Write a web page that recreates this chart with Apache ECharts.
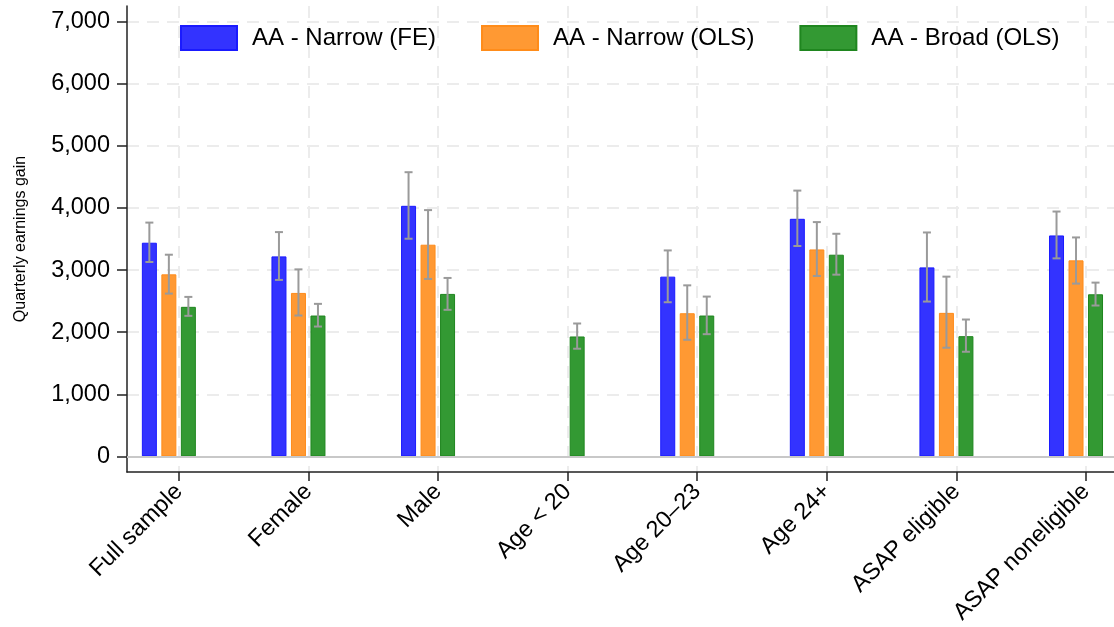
<!DOCTYPE html>
<html>
<head>
<meta charset="utf-8">
<script src="https://cdn.jsdelivr.net/npm/echarts@6/dist/echarts.min.js"></script>
<style>html,body{margin:0;padding:0;background:#fff;}#c{width:1114px;height:627px;}</style>
</head>
<body>
<div id="c"></div>
<script>
const categories = ['Full sample','Female','Male','Age < 20','Age 20\u201323','Age 24+','ASAP eligible','ASAP noneligible'];
const seriesNames = ['AA - Narrow (FE)','AA - Narrow (OLS)','AA - Broad (OLS)'];
const narrowFE    = [3440, 3220, 4034, null, 2894, 3825, 3043, 3557];
const narrowFE_lo = [3130, 2841, 3504, null, 2482, 3387, 2493, 3188];
const narrowFE_hi = [3764, 3611, 4575, null, 3316, 4279, 3605, 3942];
const narrowOLS    = [2931, 2632, 3408, null, 2305, 3332, 2311, 3156];
const narrowOLS_lo = [2621, 2268, 2857, null, 1878, 2905, 1750, 2782];
const narrowOLS_hi = [3247, 3011, 3965, null, 2754, 3772, 2894, 3525];
const broadOLS    = [2408, 2268, 2616, 1931, 2268, 3247, 1936, 2610];
const broadOLS_lo = [2263, 2091, 2360, 1734, 1968, 2926, 1685, 2429];
const broadOLS_hi = [2568, 2456, 2873, 2140, 2573, 3584, 2204, 2798];
const yTicks = [0, 1000, 2000, 3000, 4000, 5000, 6000, 7000];

const values = [narrowFE, narrowOLS, broadOLS];
const lows = [narrowFE_lo, narrowOLS_lo, broadOLS_lo];
const highs = [narrowFE_hi, narrowOLS_hi, broadOLS_hi];
const fills = ['#3333ff', '#ff9933', '#339933'];
const borders = ['#1a1aff', '#ff8c1a', '#1f861f'];
const barOffsets = [-19.5, 0, 19.5];
const positions = categories.map((c, i) => i + 1);

const FONT = "'Liberation Sans', Arial, Helvetica, sans-serif";
const chart = echarts.init(document.getElementById('c'), null, {renderer: 'canvas'});

const series = [];
values.forEach((vals, s) => {
  series.push({
    name: seriesNames[s],
    type: 'bar',
    xAxisIndex: 1,
    barWidth: 15,
    barGap: '30%',
    itemStyle: {color: fills[s], borderColor: borders[s], borderWidth: 1},
    data: vals.map((v, i) => [positions[i], v === null ? '-' : v]),
    markLine: s === 0 ? {
      silent: true, symbol: 'none', label: {show: false},
      lineStyle: {color: '#c8c8c8', type: 'solid', width: 2},
      data: [{yAxis: 0}]
    } : undefined,
    z: 2
  });
});
values.forEach((vals, s) => {
  const d = [];
  vals.forEach((v, i) => { if (v !== null) d.push([positions[i], lows[s][i], highs[s][i]]); });
  series.push({
    name: 'err' + s,
    type: 'custom',
    xAxisIndex: 1,
    dimensions: ['x', 'lo', 'hi'],
    encode: {x: 0, y: [1, 2]},
    data: d,
    z: 5,
    renderItem: function (params, api) {
      const top = api.coord([api.value(0), api.value(2)]);
      const bot = api.coord([api.value(0), api.value(1)]);
      const cx = top[0] + barOffsets[s];
      const style = {stroke: '#9a9a9a', lineWidth: 2};
      return {
        type: 'group',
        children: [
          {type: 'line', shape: {x1: cx, y1: top[1], x2: cx, y2: bot[1]}, style: style},
          {type: 'line', shape: {x1: cx - 4, y1: top[1], x2: cx + 4, y2: top[1]}, style: style},
          {type: 'line', shape: {x1: cx - 4, y1: bot[1], x2: cx + 4, y2: bot[1]}, style: style}
        ]
      };
    }
  });
});

const option = {
  animation: false,
  backgroundColor: '#ffffff',
  textStyle: {fontFamily: FONT, color: '#000'},
  grid: {left: 127, right: 0, top: 6, bottom: 154, containLabel: false},
  legend: {
    data: seriesNames,
    left: 180, top: 25, padding: 0,
    icon: 'rect',
    itemWidth: 56, itemHeight: 24, itemGap: 45,
    textStyle: {fontSize: 24, color: '#000', fontFamily: FONT, padding: [0, 0, 0, 10]}
  },
  xAxis: [
    {
      type: 'value',
      min: 0.6, max: 8.216,
      axisLine: {show: true, onZero: false, lineStyle: {color: '#222', width: 1.5}},
      axisTick: {show: true, length: 9, lineStyle: {color: '#222', width: 1.5}, customValues: positions},
      axisLabel: {
        customValues: positions,
        rotate: 45, margin: 16, fontSize: 23.5, color: '#000', fontFamily: FONT,
        formatter: v => categories[Math.round(v) - 1] || ''
      },
      splitLine: {show: true, lineStyle: {color: '#ececec', type: [12, 8], width: 2}}
    },
    {
      type: 'value',
      min: 0.677, max: 8.293,
      show: false
    }
  ],
  yAxis: {
    type: 'value',
    min: -250, max: 7250,
    name: 'Quarterly earnings gain',
    nameLocation: 'middle',
    nameGap: 98,
    nameTextStyle: {fontSize: 16, color: '#000', fontFamily: FONT},
    axisLine: {show: true, onZero: false, lineStyle: {color: '#222', width: 1.5}},
    axisTick: {show: true, length: 10, lineStyle: {color: '#222', width: 1.5}, customValues: yTicks},
    axisLabel: {
      customValues: yTicks,
      margin: 17, fontSize: 23.5, color: '#000', fontFamily: FONT,
      formatter: v => Number(v).toLocaleString('en-US')
    },
    splitLine: {show: true, lineStyle: {color: '#ececec', type: [12, 8], width: 2}}
  },
  series: series
};
chart.setOption(option);
</script>
</body>
</html>
